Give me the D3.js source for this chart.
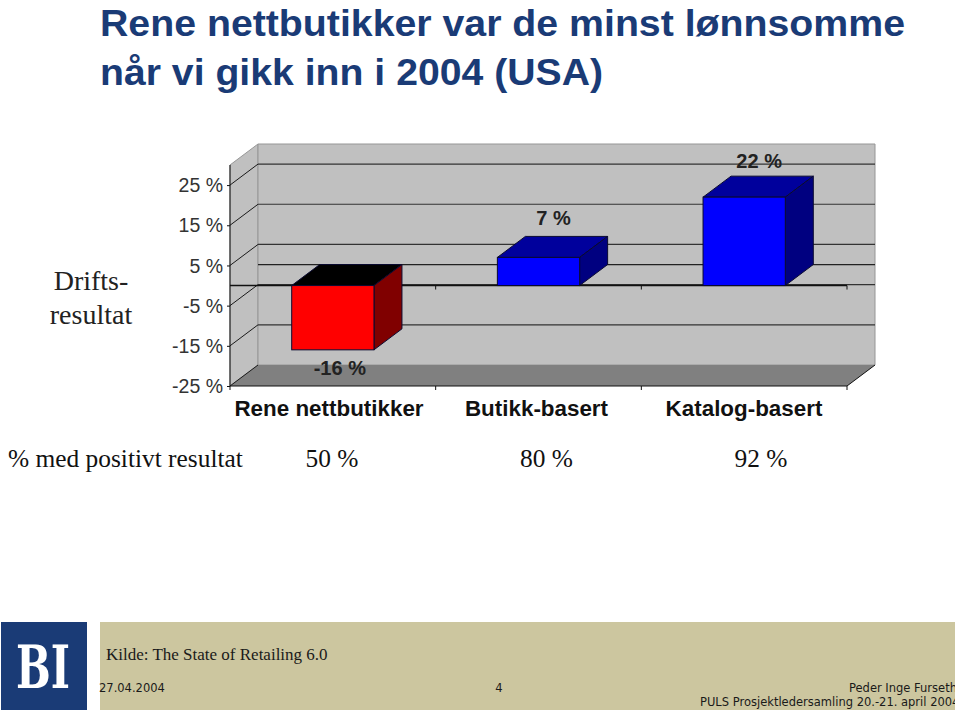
<!DOCTYPE html>
<html>
<head>
<meta charset="utf-8">
<script src="https://cdn.jsdelivr.net/npm/d3@7/dist/d3.min.js"></script>
<style>
html,body{margin:0;padding:0;background:#fff;}
svg{display:block;}
text{font-family:"Liberation Sans",Arial,sans-serif;}
.serif{font-family:"Liberation Serif","Times New Roman",serif;}
.verd{font-family:"DejaVu Sans",Verdana,sans-serif;}
.logo{font-family:"DejaVu Serif",serif;}
</style>
</head>
<body>
<svg id="c" width="960" height="717"></svg>
<script>
const titleLines = ["Rene nettbutikker var de minst lønnsomme", "når vi gikk inn i 2004 (USA)"];
const categories = ["Rene nettbutikker", "Butikk-basert", "Katalog-basert"];
const values = [-16, 7, 22];
const positiveShare = ["50 %", "80 %", "92 %"];
const tickValues = [-25, -15, -5, 5, 15, 25];
const yAxisTitle = ["Drifts-", "resultat"];
const rowTitle = "% med positivt resultat";
const sourceText = "Kilde: The State of Retailing 6.0";
const footerDate = "27.04.2004";
const footerPage = "4";
const footerRight = ["Peder Inge Furseth", "PULS Prosjektledersamling 20.-21. april 2004"];

const svg = d3.select("#c");
const left = 230, right = 847, bottomY = 386, topY = 165;
const dx = 28, dy = -21;
const x = d3.scaleBand().domain(categories).range([left, right]).paddingInner(0.6).paddingOuter(0.3);
const y = d3.scaleLinear().domain([-25, 30]).range([bottomY, topY]);
const bw = x.bandwidth();
const y0 = y(0);
const poly = pts => pts.map(p => p.join(",")).join(" ");

// Title
const navy = "#1a3b76";
svg.selectAll("text.title").data(titleLines).join("text").attr("class","title")
  .attr("x",100).attr("y",(d,i)=>36+i*49).attr("fill",navy)
  .attr("font-size",37).attr("font-weight","bold")
  .attr("textLength",(d,i)=>i===0?805:503).attr("lengthAdjust","spacingAndGlyphs").text(d=>d);

// Walls
const g = svg.append("g");
g.append("polygon").attr("points",poly([[left,y(30)],[left+dx,y(30)+dy],[left+dx,bottomY+dy],[left,bottomY]])).attr("fill","#c0c0c0").attr("stroke","#969696");
g.append("polygon").attr("points",poly([[left+dx,y(30)+dy],[right+dx,y(30)+dy],[right+dx,bottomY+dy],[left+dx,bottomY+dy]])).attr("fill","#c0c0c0").attr("stroke","#969696");
g.append("polygon").attr("points",poly([[left,bottomY],[left+dx,bottomY+dy],[right+dx,bottomY+dy],[right,bottomY]])).attr("fill","#808080");

// Gridlines on the back wall and left wall
tickValues.forEach(v=>{
  const yy=y(v);
  if(v!==-25){
    g.append("line").attr("x1",left+dx).attr("x2",right+dx).attr("y1",yy+dy).attr("y2",yy+dy).attr("stroke","#333").attr("stroke-width",1.2);
  }
  g.append("line").attr("x1",left).attr("x2",left+dx).attr("y1",yy).attr("y2",yy+dy).attr("stroke","#1a1a1a").attr("stroke-width",1);
});
// Zero plane back edge
g.append("line").attr("x1",left+dx).attr("x2",right+dx).attr("y1",y0+dy).attr("y2",y0+dy).attr("stroke","#222").attr("stroke-width",1.3);
g.append("line").attr("x1",right).attr("x2",right+dx).attr("y1",bottomY).attr("y2",bottomY+dy).attr("stroke","#111");

// Zero axis with category ticks
const zeroAxis = svg.append("g").attr("transform",`translate(0,${y0})`);
zeroAxis.append("line").attr("x1",left).attr("x2",right).attr("stroke","#111").attr("stroke-width",1.5);
const edges = [left, left+(right-left)/3, left+2*(right-left)/3, right];
edges.slice(1).forEach(e=>zeroAxis.append("line").attr("x1",e).attr("x2",e).attr("y1",0).attr("y2",4).attr("stroke","#111"));

// Bottom axis
const bAxis = svg.append("g").attr("transform",`translate(0,${bottomY})`);
bAxis.append("line").attr("x1",left).attr("x2",right).attr("stroke","#111").attr("stroke-width",1.2);
edges.forEach(e=>bAxis.append("line").attr("x1",e).attr("x2",e).attr("y1",0).attr("y2",4).attr("stroke","#111"));

// Left axis
const yAxis = d3.axisLeft(y).tickValues(tickValues).tickSize(3).tickPadding(4).tickFormat(d=>d+" %");
const ag = svg.append("g").attr("transform",`translate(${left},0)`).call(yAxis);
ag.select(".domain").attr("stroke","#111").attr("d",`M0,${y(30)}V${bottomY}`);
ag.selectAll("line").attr("stroke","#111");
ag.selectAll("text").attr("font-size",19.5).attr("fill","#333").attr("dy","0.34em");

// Bars
const bars = svg.selectAll("g.bar").data(categories.map((c,i)=>({c,v:values[i]}))).join("g").attr("class","bar");
const colors = d=> d.v<0 ? {f:"#ff0000",t:"#000000",s:"#800000"} : {f:"#0000ff",t:"#00009c",s:"#000080"};
bars.each(function(d){
  const s=d3.select(this), x0=x(d.c), x1=x0+bw, a=y(Math.max(d.v,0)), b=y(Math.min(d.v,0)), col=colors(d);
  const st={stroke:"#0a0a30"};
  s.append("polygon").attr("points",poly([[x0,a],[x0+dx,a+dy],[x1+dx,a+dy],[x1,a]])).attr("fill",col.t).attr("stroke",st.stroke);
  s.append("polygon").attr("points",poly([[x1,a],[x1+dx,a+dy],[x1+dx,b+dy],[x1,b]])).attr("fill",col.s).attr("stroke",st.stroke);
  s.append("rect").attr("x",x0).attr("y",a).attr("width",bw).attr("height",b-a).attr("fill",col.f).attr("stroke",st.stroke);
});

// Value labels
svg.selectAll("text.val").data(categories.map((c,i)=>({c,v:values[i]}))).join("text").attr("class","val")
  .attr("x",d=>x(d.c)+bw/2+dx/2+(d.v<0?-7:1))
  .attr("y",d=>d.v<0?y(d.v)+25:y(d.v)+dy-(d.v<10?11:8))
  .attr("text-anchor","middle").attr("font-weight","bold").attr("font-size",20).attr("fill","#222")
  .text(d=>d.v+" %");

// Category labels
const labelX = d3.scalePoint().domain(categories).range([329,744]);
svg.selectAll("text.cat").data(categories).join("text").attr("class","cat")
  .attr("x",d=>labelX(d)).attr("y",416).attr("text-anchor","middle")
  .attr("font-weight","bold").attr("font-size",22.4).attr("fill","#111").text(d=>d);

// Y title
svg.selectAll("text.yt").data(yAxisTitle).join("text").attr("class","yt serif")
  .attr("x",91).attr("y",(d,i)=>290+i*34).attr("text-anchor","middle").attr("font-size",28).attr("fill","#222").text(d=>d);

// Row
const rowX = d3.scalePoint().domain(categories).range([332,761]);
svg.append("text").attr("class","serif").attr("x",8).attr("y",467).attr("font-size",25.4).attr("fill","#111").text(rowTitle);
svg.selectAll("text.pos").data(categories).join("text").attr("class","pos serif")
  .attr("x",d=>rowX(d)).attr("y",467).attr("text-anchor","middle").attr("font-size",25.4).attr("fill","#111")
  .text((d,i)=>positiveShare[i]);

// Footer
const defs = svg.append("defs");
defs.append("clipPath").attr("id","bandClip").append("rect").attr("x",90).attr("y",622).attr("width",865).attr("height",88);
svg.append("rect").attr("x",1).attr("y",622).attr("width",86).attr("height",88).attr("fill",navy);
svg.append("text").attr("class","logo").attr("x",43).attr("y",688).attr("text-anchor","middle")
  .attr("font-size",60).attr("font-weight","bold").attr("fill","#fff")
  .attr("textLength",54).attr("lengthAdjust","spacingAndGlyphs").text("BI");
svg.append("rect").attr("x",100).attr("y",622).attr("width",855).attr("height",88).attr("fill","#ccc69f");
svg.append("text").attr("class","serif").attr("x",106).attr("y",660).attr("font-size",17).attr("fill","#1a1a1a").text(sourceText);
const ft = svg.append("g").attr("clip-path","url(#bandClip)");
ft.append("text").attr("class","verd").attr("x",99).attr("y",692).attr("font-size",11.5).attr("fill","#1a1a1a").text(footerDate);
ft.append("text").attr("class","verd").attr("x",499).attr("y",692).attr("text-anchor","middle").attr("font-size",11.5).attr("fill","#1a1a1a").text(footerPage);
ft.selectAll("text.fr").data(footerRight).join("text").attr("class","fr verd")
  .attr("x",(d,i)=>i===0?849:700).attr("y",(d,i)=>692+i*14)
  .attr("font-size",11.5).attr("fill","#1a1a1a").text(d=>d);
</script>
</body>
</html>
